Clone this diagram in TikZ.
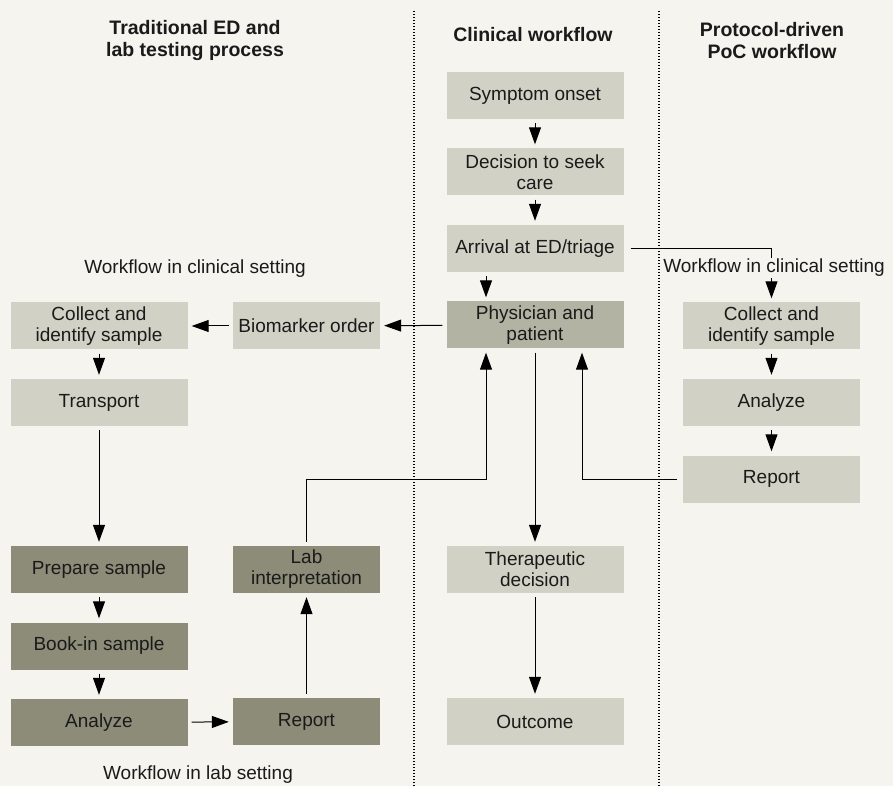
\documentclass[tikz,border=0pt]{standalone}
\usepackage{fontspec}
\setmainfont{Liberation Sans}
\usetikzlibrary{arrows.meta}
\definecolor{bgcol}{HTML}{F5F4EE}
\definecolor{lightbox}{HTML}{D2D1C5}
\definecolor{midbox}{HTML}{B3B3A3}
\definecolor{darkbox}{HTML}{8C8C78}
\definecolor{txt}{HTML}{1A1A1A}

\begin{document}
\begin{tikzpicture}[x=1pt, y=1pt, node distance=76.5pt,
  block/.style={fill=lightbox, text=txt, minimum height=47pt, inner sep=0pt, align=center, font=\fontsize{19}{21}\selectfont},
  wide/.style={block, minimum width=177pt},
  narrow/.style={block, minimum width=147pt},
  flow/.style={-{Triangle[length=17pt, width=12pt]}, line width=1pt, shorten <=4pt, shorten >=4pt},
  heading/.style={text=txt, align=center, font=\bfseries\fontsize{19.5}{22}\selectfont},
  note/.style={text=txt, font=\fontsize{19}{21}\selectfont},
  sep/.style={line width=1.3pt, dash pattern=on 1.3pt off 1.7pt}]

  \fill[bgcol] (0,0) rectangle (893,786);

  % Column separators
  \draw[sep] (414,0) -- (414,776);
  \draw[sep] (659,0) -- (659,776);

  % Headings
  \node[heading] (H1) at (195,745) {Traditional ED and\\lab testing process};
  \node[heading] (H2) at (533,751) {Clinical workflow};
  \node[heading] (H3) at (772,745) {Protocol-driven\\PoC workflow};

  % Clinical workflow
  \node[wide] (C1) at (535,690.5) {Symptom onset};
  \node[wide, below of=C1] (C2) {Decision to seek\\care};
  \node[wide, below of=C2] (C3) {Arrival at ED/triage};
  \node[wide, fill=midbox, below of=C3] (C4) {Physician and\\patient};
  \node[wide] (C5) at (535,216.5) {Therapeutic\\decision};
  \node[wide, below of=C5, node distance=152pt] (C6) {Outcome};

  % Traditional column
  \node[wide] (T1) at (99,460) {Collect and\\identify sample};
  \node[wide, below of=T1] (T2) {Transport};
  \node[wide, fill=darkbox] (T3) at (99,216.5) {Prepare sample};
  \node[wide, fill=darkbox, below of=T3] (T4) {Book-in sample};
  \node[wide, fill=darkbox, below of=T4] (T5) {Analyze};

  % Middle column
  \node[narrow] (M1) at (306.5,460) {Biomarker order};
  \node[narrow, fill=darkbox] (M2) at (306.5,216.5) {Lab\\interpretation};
  \node[narrow, fill=darkbox, below of=M2, node distance=152pt] (M3) {Report};

  % PoC column
  \node[wide] (P1) at (771.5,460) {Collect and\\identify sample};
  \node[wide, below of=P1] (P2) {Analyze};
  \node[wide, below of=P2] (P3) {Report};

  % Entry points on physician box
  \coordinate (J1) at ([xshift=-49pt]C4.south);
  \coordinate (J2) at ([xshift=47pt]C4.south);
  \coordinate (J3) at ([xshift=-49pt]C3.south);
  \coordinate (J4) at ([xshift=-49pt]C4.north);

  % Clinical arrows
  \draw[flow] (C1) -- (C2);
  \draw[flow] (C2) -- (C3);
  \draw[flow] (J3) -- (J4);
  \draw[flow] (C4) -- (C5);
  \draw[flow] (C5) -- (C6);

  % Traditional arrows
  \draw[flow] (C4) -- (M1);
  \draw[flow] (M1) -- (T1);
  \draw[flow] (T1) -- (T2);
  \draw[flow] (T2) -- (T3);
  \draw[flow] (T3) -- (T4);
  \draw[flow] (T4) -- (T5);
  \draw[flow] (T5) -- (M3);
  \draw[flow] (M3) -- (M2);
  \draw[flow] (M2.north) |- (J1 |- P3.west) -- (J1);

  % PoC arrows
  \draw[flow, shorten <=7pt] (C3.east) -| (P1.north);
  \draw[flow] (P1) -- (P2);
  \draw[flow] (P2) -- (P3);
  \draw[flow, shorten <=6pt] (P3.west) -| (J2);

  % Labels
  \node[note] (W1) at (195,517) {Workflow in clinical setting};
  \node[note, fill=bgcol, inner sep=1pt] (W2) at (774,518) {Workflow in clinical setting};
  \node[note] (W3) at (198,11) {Workflow in lab setting};

\end{tikzpicture}
\end{document}
